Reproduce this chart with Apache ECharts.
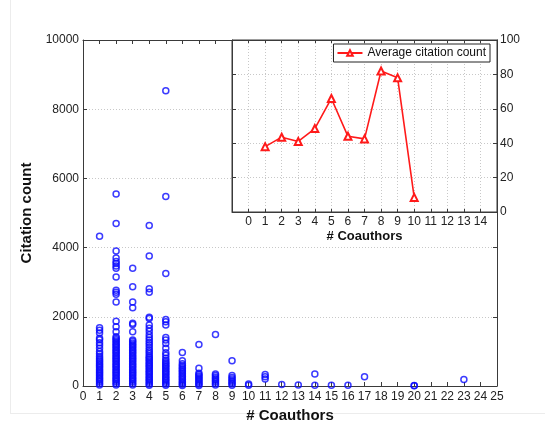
<!DOCTYPE html>
<html>
<head>
<meta charset="utf-8">
<script src="https://cdn.jsdelivr.net/npm/echarts@6/dist/echarts.min.js"></script>
<style>
html,body{margin:0;padding:0;background:#fff;}
#c{width:545px;height:430px;}
</style>
</head>
<body>
<div id="c"></div>
<script>
// Main scatter: citation counts per number of coauthors
const authors1 = [4330, 1680, 1610, 1530, 1380, 1340, 1250, 1180, 1090, 1000, 930, 860, 800, 750, 705, 660, 615, 570, 525, 480, 435, 390, 345, 300, 255, 210, 165, 120, 75, 30];
const authors2 = [5550, 4700, 3900, 3700, 3600, 3540, 3470, 3400, 3150, 2770, 2710, 2650, 2430, 1870, 1710, 1570, 1420, 1380, 1335, 1290, 1245, 1200, 1155, 1110, 1065, 1020, 975, 930, 885, 840, 795, 750, 705, 660, 615, 570, 525, 480, 435, 390, 345, 300, 255, 210, 165, 120, 75, 30];
const authors3 = [3400, 2870, 2430, 2260, 1810, 1780, 1570, 1330, 1290, 1245, 1200, 1155, 1110, 1065, 1020, 975, 930, 885, 840, 795, 750, 705, 660, 615, 570, 525, 480, 435, 390, 345, 300, 255, 210, 165, 120, 75, 30];
const authors4 = [4640, 3760, 2810, 2710, 1990, 1950, 1760, 1670, 1580, 1480, 1400, 1330, 1260, 1190, 1120, 1050, 990, 930, 870, 825, 780, 735, 690, 645, 600, 555, 510, 465, 420, 375, 330, 285, 240, 195, 150, 105, 60, 20];
const authors5 = [8530, 5480, 3250, 1920, 1860, 1760, 1400, 1330, 1230, 1090, 960, 890, 800, 740, 690, 645, 600, 555, 510, 465, 420, 375, 330, 285, 240, 195, 150, 105, 60, 20];
const authors6 = [970, 730, 640, 590, 545, 500, 455, 410, 365, 320, 275, 230, 185, 140, 95, 50, 15];
const authors7 = [1200, 510, 370, 330, 290, 250, 210, 170, 130, 90, 50, 15];
const authors8 = [1490, 350, 300, 255, 210, 165, 120, 75, 30];
const authors9 = [730, 300, 245, 200, 155, 110, 65, 20];
const authors10 = [60, 20];
const authors11 = [330, 270, 200];
const authors12 = [40];
const authors13 = [30];
const authors14 = [350, 25];
const authors15 = [20];
const authors16 = [20];
const authors17 = [270];
const authors20 = [15, 5];
const authors23 = [190];
const coauthorColumns = [
  [1, authors1], [2, authors2], [3, authors3], [4, authors4], [5, authors5],
  [6, authors6], [7, authors7], [8, authors8], [9, authors9], [10, authors10],
  [11, authors11], [12, authors12], [13, authors13], [14, authors14], [15, authors15],
  [16, authors16], [17, authors17], [20, authors20], [23, authors23]
];

// Inset line: average citation count
const avgCoauthors = [1, 2, 3, 4, 5, 6, 7, 8, 9, 10];
const avgCitation = [38, 43.5, 41, 48.5, 66, 44, 42.5, 82, 78, 8.5];

const scatterData = [];
coauthorColumns.forEach(([x, vals]) => vals.forEach(v => scatterData.push([x, v])));
const lineData = avgCoauthors.map((x, i) => [x, avgCitation[i]]);

const FONT = 'Liberation Sans, Arial, sans-serif';
const AX = '#3a3a3a';
const GRID = '#c8c8c8';

const chart = echarts.init(document.getElementById('c'), null, {renderer: 'canvas'});
chart.setOption({
  animation: false,
  backgroundColor: '#fff',
  textStyle: {fontFamily: FONT},
  graphic: [
    {type: 'line', shape: {x1: 10.5, y1: 0, x2: 10.5, y2: 413}, style: {stroke: '#ececec', lineWidth: 1}, silent: true},
    {type: 'line', shape: {x1: 10, y1: 413.5, x2: 545, y2: 413.5}, style: {stroke: '#ececec', lineWidth: 1}, silent: true}
  ],
  grid: [
    {left: 83, right: 48, top: 40, bottom: 44, show: false},
    {left: 232, right: 48, top: 40, bottom: 218, show: true, backgroundColor: '#fff', borderColor: AX, borderWidth: 1, z: 5}
  ],
  legend: {
    data: ['Average citation count'],
    right: 55, top: 44,
    orient: 'horizontal',
    backgroundColor: '#fff',
    borderColor: '#222', borderWidth: 1,
    padding: [3, 4, 3, 3],
    itemWidth: 25, itemHeight: 7, itemGap: 4,
    textStyle: {fontFamily: FONT, fontSize: 12, color: '#111'},
    z: 20
  },
  xAxis: [
    {gridIndex: 0, type: 'value', min: 0, max: 25, interval: 1, position: 'bottom',
     axisLine: {show: true, onZero: false, lineStyle: {color: AX}},
     axisTick: {show: true, inside: true, length: 4, lineStyle: {color: AX}},
     axisLabel: {margin: 5, fontSize: 12, color: '#222', fontFamily: FONT},
     splitLine: {show: false},
     name: '# Coauthors', nameLocation: 'middle', nameGap: 15,
     nameTextStyle: {fontWeight: 'bold', fontSize: 15, color: '#111', fontFamily: FONT}},
    {gridIndex: 0, type: 'value', min: 0, max: 25, interval: 1, position: 'top',
     axisLine: {show: true, onZero: false, lineStyle: {color: AX}},
     axisTick: {show: true, inside: true, length: 4, lineStyle: {color: AX}},
     axisLabel: {show: false}, splitLine: {show: false}},
    {gridIndex: 1, type: 'value', min: -1, max: 15, interval: 1, position: 'bottom', z: 6,
     axisLine: {show: true, onZero: false, lineStyle: {color: AX}},
     axisTick: {show: true, inside: true, length: 3, lineStyle: {color: AX}},
     axisLabel: {margin: 4, fontSize: 12, color: '#222', fontFamily: FONT,
       formatter: v => (v < 0 || v > 14) ? '' : String(v)},
     splitLine: {show: true, lineStyle: {color: GRID, type: [1, 2], width: 1}},
     name: '# Coauthors', nameLocation: 'middle', nameGap: 18,
     nameTextStyle: {fontWeight: 'bold', fontSize: 13, color: '#111', fontFamily: FONT}},
    {gridIndex: 1, type: 'value', min: -1, max: 15, interval: 1, position: 'top', z: 6,
     axisLine: {show: true, onZero: false, lineStyle: {color: AX}},
     axisTick: {show: true, inside: true, length: 3, lineStyle: {color: AX}},
     axisLabel: {show: false}, splitLine: {show: false}}
  ],
  yAxis: [
    {gridIndex: 0, type: 'value', min: 0, max: 10000, interval: 2000, position: 'left',
     axisLine: {show: true, onZero: false, lineStyle: {color: AX}},
     axisTick: {show: true, inside: true, length: 4, lineStyle: {color: AX}},
     axisLabel: {margin: 4, fontSize: 12, color: '#222', fontFamily: FONT, formatter: v => String(v)},
     splitLine: {show: true, lineStyle: {color: GRID, type: [1, 2], width: 1}},
     name: 'Citation count', nameLocation: 'middle', nameGap: 41,
     nameTextStyle: {fontWeight: 'bold', fontSize: 15, color: '#111', fontFamily: FONT}},
    {gridIndex: 0, type: 'value', min: 0, max: 10000, interval: 2000, position: 'right',
     axisLine: {show: true, onZero: false, lineStyle: {color: AX}},
     axisTick: {show: true, inside: true, length: 4, lineStyle: {color: AX}},
     axisLabel: {show: false}, splitLine: {show: false}},
    {gridIndex: 1, type: 'value', min: 0, max: 100, interval: 20, position: 'right', z: 6,
     axisLine: {show: true, onZero: false, lineStyle: {color: AX}},
     axisTick: {show: true, inside: true, length: 4, lineStyle: {color: AX}},
     axisLabel: {margin: 3, fontSize: 12, color: '#222', fontFamily: FONT},
     splitLine: {show: true, lineStyle: {color: GRID, type: [1, 2], width: 1}}},
    {gridIndex: 1, type: 'value', min: 0, max: 100, interval: 20, position: 'left', z: 6,
     axisLine: {show: true, onZero: false, lineStyle: {color: AX}},
     axisTick: {show: true, inside: true, length: 4, lineStyle: {color: AX}},
     axisLabel: {show: false}, splitLine: {show: false}}
  ],
  series: [
    {type: 'scatter', name: 'Citations', xAxisIndex: 0, yAxisIndex: 0,
     data: scatterData, symbol: 'circle', symbolSize: 6, z: 2,
     itemStyle: {color: 'rgba(0,0,0,0)', borderColor: '#0a0aff', borderWidth: 1.5}},
    {type: 'line', name: 'Average citation count', xAxisIndex: 2, yAxisIndex: 2,
     data: lineData, symbol: 'emptyTriangle', symbolSize: 7, z: 10,
     lineStyle: {color: '#ff1a1a', width: 1.6},
     itemStyle: {color: '#ff1a1a', borderColor: '#ff1a1a', borderWidth: 1.5}}
  ]
});
</script>
</body>
</html>
